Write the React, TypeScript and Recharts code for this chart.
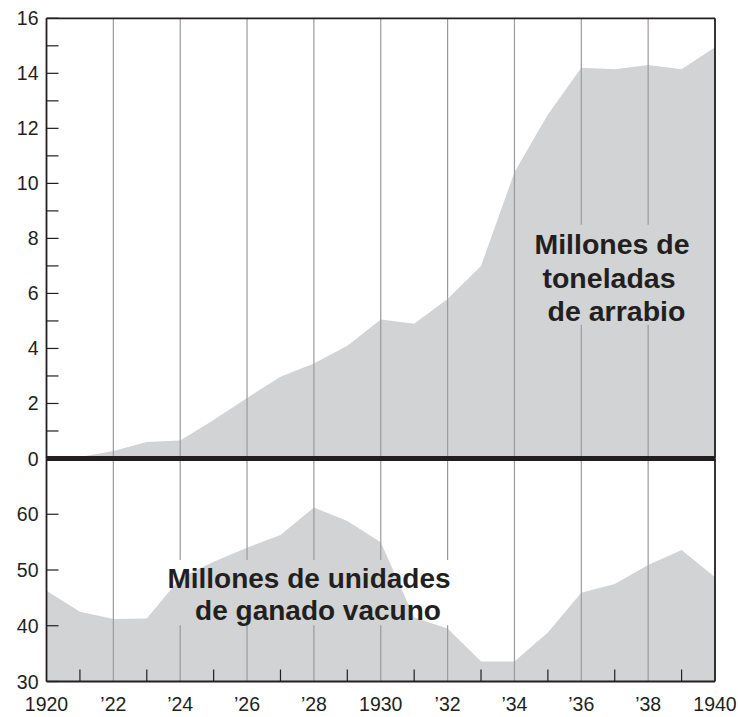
import React from 'react';
import { AreaChart, Area, XAxis, YAxis, ReferenceLine } from 'recharts';

// ---- data ----
const years = [1920, 1921, 1922, 1923, 1924, 1925, 1926, 1927, 1928, 1929, 1930, 1931, 1932, 1933, 1934, 1935, 1936, 1937, 1938, 1939, 1940];
// million tonnes of pig iron
const pigIron = [0.0, 0.05, 0.27, 0.6, 0.65, 1.4, 2.2, 2.97, 3.45, 4.1, 5.05, 4.9, 5.8, 7.0, 10.4, 12.5, 14.2, 14.15, 14.3, 14.15, 14.95];
// million head of cattle
const cattle = [46.3, 42.5, 41.2, 41.3, 48.5, 51.5, 54.0, 56.3, 61.2, 58.8, 55.0, 41.5, 39.5, 33.6, 33.6, 38.8, 45.9, 47.5, 50.9, 53.6, 48.7];

const labelYears = [1920, 1922, 1924, 1926, 1928, 1930, 1932, 1934, 1936, 1938, 1940];
const xLabels = ['1920', '\u201922', '\u201924', '\u201926', '\u201928', '1930', '\u201932', '\u201934', '\u201936', '\u201938', '1940'];
const gridYears = [1922, 1924, 1926, 1928, 1930, 1932, 1934, 1936, 1938];

const topTicks = [0, 1, 2, 3, 4, 5, 6, 7, 8, 9, 10, 11, 12, 13, 14, 15, 16];
const topLabels = [0, 2, 4, 6, 8, 10, 12, 14, 16];
const bottomTicks = [30, 40, 50, 60];
const bottomLabels = [30, 40, 50, 60];

const topTitle = ['Millones de', 'toneladas', 'de arrabio'];
const bottomTitle = ['Millones de unidades', 'de ganado vacuno'];

// gaps in the gridlines behind the titles (data units)
const topGap = { x0: 1934.5, x1: 1939.5, y0: 4.85, y1: 8.5 };
const bottomGap = { x0: 1923.5, x1: 1932.5, y0: 40.1, y1: 51.8 };

const data = years.map((y, i) => ({ year: y, iron: pigIron[i], cattle: cattle[i] }));

// ---- style ----
const DARK = '#231f20';
const GRID = '#9b9b9b';
const FILL = '#d1d3d4';
const FONT = '"Liberation Sans", Arial, Helvetica, sans-serif';
const TICK_FS = 19.5;

function segmentsFor(yr: number, lo: number, hi: number, gap: { x0: number; x1: number; y0: number; y1: number }) {
  if (yr > gap.x0 && yr < gap.x1) {
    return [
      [lo, gap.y0],
      [gap.y1, hi],
    ];
  }
  return [[lo, hi]];
}

const makeYTick = (labels: number[]) => (props: any) => {
  const { x, y, payload } = props;
  const v = payload.value;
  return (
    <g>
      <line x1={x} x2={x + 12} y1={y} y2={y} stroke={DARK} strokeWidth={1.2} />
      {labels.includes(v) && (
        <text x={x - 8} y={y + 7} textAnchor="end" fontSize={TICK_FS} fontFamily={FONT} fill={DARK}>
          {String(v)}
        </text>
      )}
    </g>
  );
};

const XTick = (props: any) => {
  const { x, y, payload } = props;
  const v = payload.value;
  const idx = labelYears.indexOf(v);
  if (idx >= 0) {
    return (
      <text x={x} y={y + 29.5} textAnchor="middle" fontSize={TICK_FS} fontFamily={FONT} fill={DARK}>
        {xLabels[idx]}
      </text>
    );
  }
  return <line x1={x} x2={x} y1={y} y2={y - 12} stroke={DARK} strokeWidth={1.2} />;
};

export default function App() {
  const topGrid = gridYears.flatMap((yr) =>
    segmentsFor(yr, 0, 16, topGap).map((s, k) => (
      <ReferenceLine
        key={`tg${yr}-${k}`}
        segment={[{ x: yr, y: s[0] }, { x: yr, y: s[1] }]}
        stroke={GRID}
        strokeWidth={1.2}
      />
    ))
  );
  const bottomGrid = gridYears.flatMap((yr) =>
    segmentsFor(yr, 30, 70, bottomGap).map((s, k) => (
      <ReferenceLine
        key={`bg${yr}-${k}`}
        segment={[{ x: yr, y: s[0] }, { x: yr, y: s[1] }]}
        stroke={GRID}
        strokeWidth={1.2}
      />
    ))
  );

  return (
    <div style={{ position: 'absolute', left: 0, top: 0, width: 738, height: 717, background: '#fff' }}>
      {/* bottom panel: cattle */}
      <div style={{ position: 'absolute', left: 0, top: 440 }}>
        <AreaChart width={738} height={277} data={data} margin={{ top: 18.5, right: 23, bottom: 0, left: 0 }}>
          <XAxis
            dataKey="year"
            type="number"
            domain={[1920, 1940]}
            ticks={years}
            interval={0}
            height={35.5}
            tickLine={false}
            tickSize={0}
            tickMargin={0}
            axisLine={{ stroke: DARK, strokeWidth: 1.8 }}
            tick={XTick}
          />
          <YAxis
            type="number"
            domain={[30, 70]}
            ticks={bottomTicks}
            interval={0}
            width={46.5}
            tickLine={false}
            tickSize={0}
            tickMargin={0}
            axisLine={{ stroke: DARK, strokeWidth: 1.8 }}
            tick={makeYTick(bottomLabels)}
          />
          <Area
            dataKey="cattle"
            type="linear"
            baseValue={30}
            fill={FILL}
            fillOpacity={1}
            stroke="none"
            dot={false}
            activeDot={false}
            isAnimationActive={false}
          />
          {bottomGrid}
          <ReferenceLine x={1940} stroke={DARK} strokeWidth={1.8} />
        </AreaChart>
      </div>

      {/* top panel: pig iron */}
      <div style={{ position: 'absolute', left: 0, top: 0 }}>
        <AreaChart width={738} height={470} data={data} margin={{ top: 18.3, right: 23, bottom: 11.5, left: 0 }}>
          <XAxis dataKey="year" type="number" domain={[1920, 1940]} hide />
          <YAxis
            type="number"
            domain={[0, 16]}
            ticks={topTicks}
            interval={0}
            width={46.5}
            tickLine={false}
            tickSize={0}
            tickMargin={0}
            axisLine={{ stroke: DARK, strokeWidth: 1.8 }}
            tick={makeYTick(topLabels)}
          />
          <Area
            dataKey="iron"
            type="linear"
            baseValue={0}
            fill={FILL}
            fillOpacity={1}
            stroke="none"
            dot={false}
            activeDot={false}
            isAnimationActive={false}
          />
          {topGrid}
          <ReferenceLine y={16} stroke={DARK} strokeWidth={1.8} />
          <ReferenceLine x={1940} stroke={DARK} strokeWidth={1.8} />
          <ReferenceLine y={0} stroke={DARK} strokeWidth={5} />
        </AreaChart>
      </div>

      {/* titles */}
      <svg
        width={738}
        height={717}
        style={{ position: 'absolute', left: 0, top: 0, pointerEvents: 'none' }}
      >
        <g fontFamily={FONT} fontWeight="bold" fill={DARK} textAnchor="middle">
          <text x={612} y={254} fontSize={28.5}>{topTitle[0]}</text>
          <text x={609} y={288} fontSize={28.5}>{topTitle[1]}</text>
          <text x={616.5} y={321} fontSize={28.5}>{topTitle[2]}</text>
          <text x={309} y={588} fontSize={28}>{bottomTitle[0]}</text>
          <text x={318} y={619.5} fontSize={28}>{bottomTitle[1]}</text>
        </g>
      </svg>
    </div>
  );
}
